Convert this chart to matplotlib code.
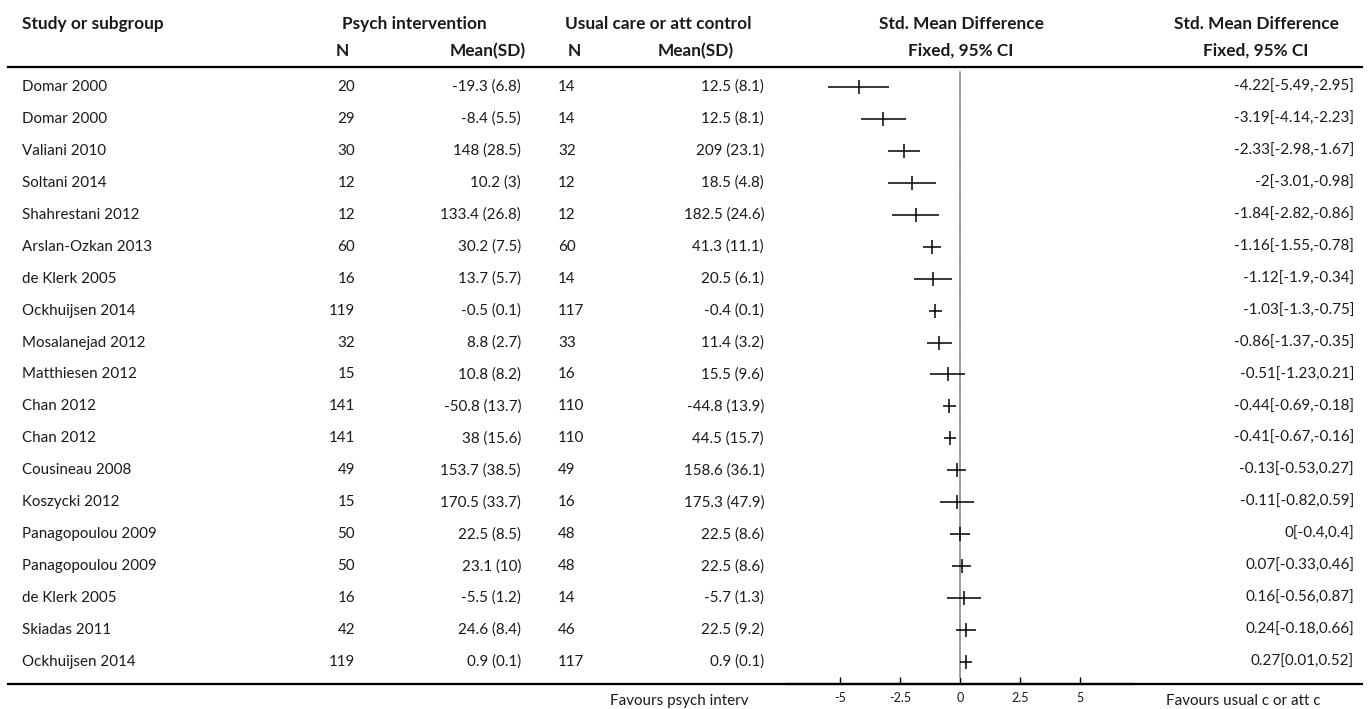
import matplotlib
matplotlib.use("Agg")
import matplotlib.pyplot as plt

plt.rcParams['font.family'] = ['Lato', 'DejaVu Sans']

studies = ["Domar 2000", "Domar 2000", "Valiani 2010", "Soltani 2014", "Shahrestani 2012",
           "Arslan-Ozkan 2013", "de Klerk 2005", "Ockhuijsen 2014", "Mosalanejad 2012",
           "Matthiesen 2012", "Chan 2012", "Chan 2012", "Cousineau 2008", "Koszycki 2012",
           "Panagopoulou 2009", "Panagopoulou 2009", "de Klerk 2005", "Skiadas 2011",
           "Ockhuijsen 2014"]
n_psych = [20, 29, 30, 12, 12, 60, 16, 119, 32, 15, 141, 141, 49, 15, 50, 50, 16, 42, 119]
mean_psych = [-19.3, -8.4, 148, 10.2, 133.4, 30.2, 13.7, -0.5, 8.8, 10.8, -50.8, 38, 153.7,
              170.5, 22.5, 23.1, -5.5, 24.6, 0.9]
sd_psych = [6.8, 5.5, 28.5, 3, 26.8, 7.5, 5.7, 0.1, 2.7, 8.2, 13.7, 15.6, 38.5, 33.7, 8.5,
            10, 1.2, 8.4, 0.1]
n_ctrl = [14, 14, 32, 12, 12, 60, 14, 117, 33, 16, 110, 110, 49, 16, 48, 48, 14, 46, 117]
mean_ctrl = [12.5, 12.5, 209, 18.5, 182.5, 41.3, 20.5, -0.4, 11.4, 15.5, -44.8, 44.5, 158.6,
             175.3, 22.5, 22.5, -5.7, 22.5, 0.9]
sd_ctrl = [8.1, 8.1, 23.1, 4.8, 24.6, 11.1, 6.1, 0.1, 3.2, 9.6, 13.9, 15.7, 36.1, 47.9, 8.6,
           8.6, 1.3, 9.2, 0.1]
smd = [-4.22, -3.19, -2.33, -2, -1.84, -1.16, -1.12, -1.03, -0.86, -0.51, -0.44, -0.41,
       -0.13, -0.11, 0, 0.07, 0.16, 0.24, 0.27]
ci_lo = [-5.49, -4.14, -2.98, -3.01, -2.82, -1.55, -1.9, -1.3, -1.37, -1.23, -0.69, -0.67,
         -0.53, -0.82, -0.4, -0.33, -0.56, -0.18, 0.01]
ci_hi = [-2.95, -2.23, -1.67, -0.98, -0.86, -0.78, -0.34, -0.75, -0.35, 0.21, -0.18, -0.16,
         0.27, 0.59, 0.4, 0.46, 0.87, 0.66, 0.52]
xticks = [-5, -2.5, 0, 2.5, 5]

W, H = 1372, 709
fig = plt.figure(figsize=(W / 100, H / 100), dpi=100)

# table layer in pixel coordinates
ax = fig.add_axes([0, 0, 1, 1])
ax.set_xlim(0, W)
ax.set_ylim(H, 0)
ax.axis("off")

fs = 10.9
fs_h = 12.4
txt = "#1a1a1a"
y0, dy = 87, 31.94
hdr1, hdr2 = 24, 51

def hb(x, y, s, ha="center"):
    ax.text(x, y, s, ha=ha, va="center", fontsize=fs_h, fontweight="bold", color=txt)

def tx(x, y, s, ha):
    ax.text(x, y, s, ha=ha, va="center", fontsize=fs, color=txt)

hb(22, hdr1, "Study or subgroup", ha="left")
hb(414, hdr1, "Psych intervention")
hb(658, hdr1, "Usual care or att control")
hb(961, hdr1, "Std. Mean Difference")
hb(1256, hdr1, "Std. Mean Difference")
hb(342, hdr2, "N")
hb(488, hdr2, "Mean(SD)")
hb(574, hdr2, "N")
hb(696, hdr2, "Mean(SD)")
hb(961, hdr2, "Fixed, 95% CI")
hb(1256, hdr2, "Fixed, 95% CI")

ax.plot([8, 1362], [67, 67], color="black", lw=1.6)
ax.plot([8, 1362], [684, 684], color="black", lw=1.6)

for i, name in enumerate(studies):
    y = y0 + i * dy
    tx(22, y, name, "left")
    tx(355, y, str(n_psych[i]), "right")
    tx(521, y, f"{mean_psych[i]:g} ({sd_psych[i]:g})", "right")
    tx(558, y, str(n_ctrl[i]), "left")
    tx(764, y, f"{mean_ctrl[i]:g} ({sd_ctrl[i]:g})", "right")
    tx(1354, y, f"{smd[i]:g}[{ci_lo[i]:g},{ci_hi[i]:g}]", "right")

tx(748, 701, "Favours psych interv", "right")
tx(1166, 701, "Favours usual c or att c", "left")

# forest plot
x_l, x_r, y_t, y_b = 787, 1133, 68, 684
fa = fig.add_axes([x_l / W, (H - y_b) / H, (x_r - x_l) / W, (y_b - y_t) / H])
fa.set_xlim(-7.2, 7.2)
fa.set_ylim((y_b - y0) / dy, (y_t - y0) / dy)
fa.patch.set_alpha(0)
for s in ["top", "left", "right"]:
    fa.spines[s].set_visible(False)
fa.spines["bottom"].set_linewidth(1.6)
fa.set_yticks([])
fa.set_xticks(xticks)
fa.set_xticklabels([f"{t:g}" for t in xticks])
fa.tick_params(axis="x", direction="in", length=5, width=1, labelsize=9, pad=6,
               labelcolor=txt)

rows = list(range(len(studies)))
for i in rows:
    fa.plot([0, 0], [i - 0.48, i + 0.48], color="#8a8a8a", lw=1.2)
fa.hlines(rows, ci_lo, ci_hi, color="black", lw=1.1)
fa.plot(smd, rows, ls="none", marker="|", ms=10, mew=1.1, color="black")

fig.savefig("out.png", dpi=100)
